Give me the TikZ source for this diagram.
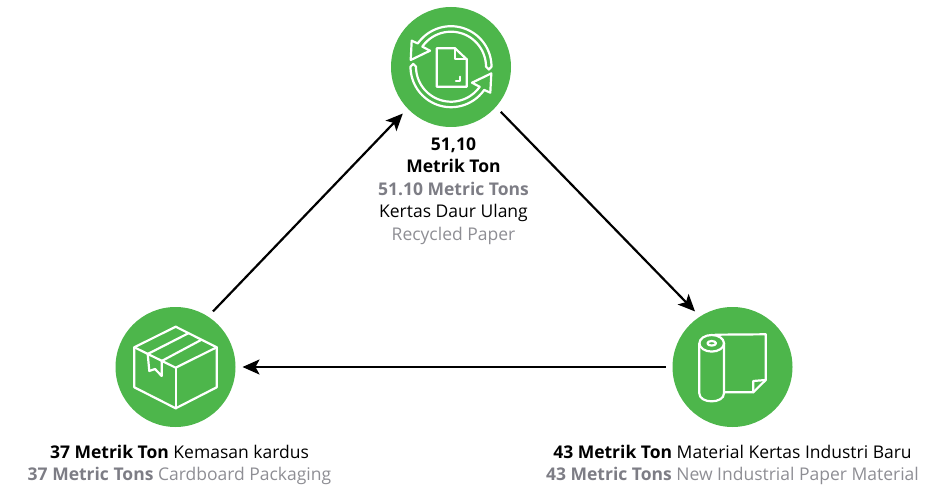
\documentclass[tikz,border=0pt]{standalone}
\usepackage{fontspec}
\setmainfont{Open Sans}
\usepackage{xcolor}
\usetikzlibrary{arrows.meta}
\definecolor{flowgreen}{RGB}{77, 182, 75}
\definecolor{boldgray}{RGB}{125, 125, 133}
\definecolor{lightgray}{RGB}{142, 142, 148}

\begin{document}
\begin{tikzpicture}[
        x=1pt, y=-1pt,
        disc/.style={circle, fill=flowgreen, minimum size=120pt, inner sep=0pt, outer sep=7pt},
        label/.style={align=center, inner sep=0pt, font=\fontsize{17.5}{22.5}\selectfont},
        arrow/.style={-{Stealth[length=17pt, width=15pt, inset=4pt]}, line width=2.2pt},
        icon/.style={draw=white, line width=2.2pt, line join=round, line cap=round}
    ]
        \useasboundingbox (0,0) rectangle (937,489);

        \node[disc] (recycle) at (451,67) {};
        \node[disc] (carton) at (175.5,367) {};
        \node[disc] (roll) at (732.5,367) {};

        \node[label] (recyclelabel) at (453.5,191) {\textbf{51,10}\\\textbf{Metrik Ton}\\\textcolor{boldgray}{\textbf{51.10 Metric Tons}}\\Kertas Daur Ulang\\\textcolor{lightgray}{Recycled Paper}};
        \node[label] (cartonlabel) at (179.5,465) {\textbf{37 Metrik Ton} Kemasan kardus\\\textcolor{boldgray}{\textbf{37 Metric Tons}} \textcolor{lightgray}{Cardboard Packaging}};
        \node[label] (rolllabel) at (732.5,465) {\textbf{43 Metrik Ton} Material Kertas Industri Baru\\\textcolor{boldgray}{\textbf{43 Metric Tons}} \textcolor{lightgray}{New Industrial Paper Material}};

        \draw[arrow] (carton.56) -- (recycle.224);
        \draw[arrow] (recycle.-42) -- (roll.124);
        \draw[arrow] (roll.west) -- (carton.east);

        % recycle icon
        \foreach \ang in {0,180} {
            \draw[icon, rotate around={\ang:(451,66.7)}]
                plot[domain=-145:0, samples=40] ({451+40.5*cos(\x)},{66.7+40.5*sin(\x)})
                -- (488.8,69.5)
                -- plot[domain=0:-145, samples=40] ({451+35*cos(\x)},{66.7+35*sin(\x)})
                -- (430,50.7) -- (410.7,60) -- (411.7,40.7) -- cycle;
        }
        \draw[icon] (436.7,48.3) -- (455,48.3) -- (466.7,59.3) -- (466.7,86.7) -- (436.7,86.7) -- cycle;
        \draw[icon] (455,48.3) -- (455,59.3) -- (466.7,59.3);
        \draw[icon] (456,81) -- (460,81) -- (460,76.7);

        % carton icon
        \draw[icon] (175.7,326.7) -- (216.7,347.3) -- (216.7,387.3) -- (175.7,408.3) -- (134.3,387.3) -- (134.3,347.3) -- cycle;
        \draw[icon] (134.3,347.3) -- (175.7,367.7) -- (216.7,347.3);
        \draw[icon] (175.7,367.7) -- (175.7,408.3);
        \draw[icon] (188.3,333.3) -- (147.7,354) -- (149.3,371) -- (155,369) -- (161.7,376) -- (161.7,361);
        \draw[icon] (201,340) -- (161.7,361);

        % roll icon
        \draw[icon] (715,334.7) -- (765.7,334.3) -- (765.7,380) -- (753.3,392.3) -- (724,392.3);
        \draw[icon] (753.3,392.3) -- (753.3,381) -- (765.7,380);
        \draw[icon] (699.3,343.3) -- (699.3,393.3) .. controls (699.3,404) and (724,404) .. (724,393.3) -- (724,343.3);
        \draw[icon] (711.7,343.3) ellipse [x radius=12.3pt, y radius=8.3pt];
        \draw[icon] (711.7,343.3) ellipse [x radius=4.3pt, y radius=2.3pt];
    \end{tikzpicture}
\end{document}
